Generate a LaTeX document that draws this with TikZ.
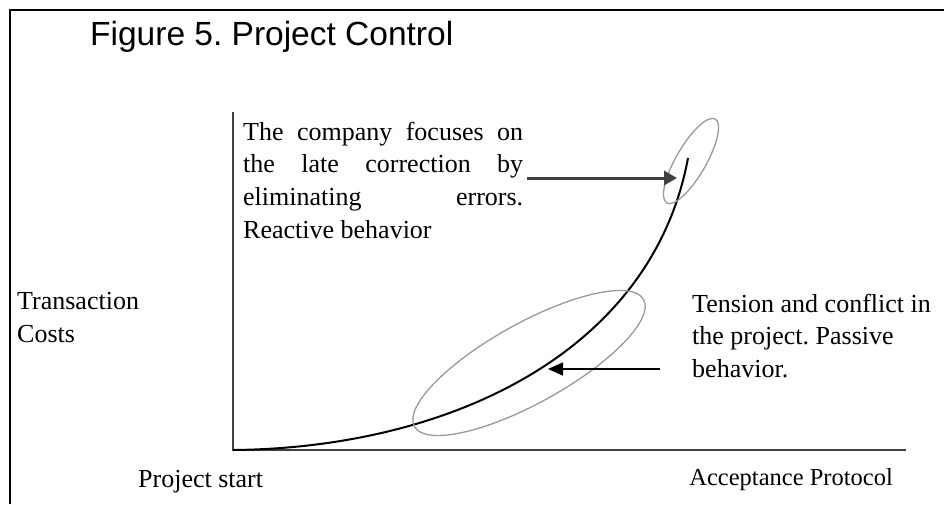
\documentclass[tikz,border=0pt]{standalone}
\usepackage{fontspec}
\setmainfont{Liberation Serif}
\newfontfamily\arialfont{Liberation Sans}
\usetikzlibrary{arrows.meta,shapes.geometric}
\frenchspacing
\tikzset{
  frameline/.style={line width=2pt, black},
  axisline/.style={line width=2.3pt, black!75},
  curveline/.style={line width=2pt, black},
  ringline/.style={line width=1.3pt, black!40},
  greyarrow/.style={line width=3pt, black!75, -{Triangle[length=13pt,width=14pt]}},
  blackarrow/.style={line width=1.3pt, black, -{Triangle[length=15pt,width=13pt]}},
  lbl/.style={inner sep=0pt, font=\fontsize{26}{32.5}\selectfont, align=left}
}
\begin{document}
\begin{tikzpicture}[x=1pt,y=-1pt]
\useasboundingbox (0,0) rectangle (944,504);
\fill[white] (0,0) rectangle (944,504);
% frame
\draw[frameline] (10,504) -- (10,10) -- (944,10);
% title
\node[anchor=base west, inner sep=0pt, font=\arialfont\fontsize{33.5}{36}\selectfont] (title) at (90,45) {Figure 5. Project Control};
% axes
\coordinate (O) at (233,450);
\coordinate (ytop) at (233,112);
\coordinate (xend) at (906,450);
\draw[axisline] (ytop) -- (O) -- (xend);
% curve
\coordinate (cend) at (688,158);
\draw[curveline] (O) .. controls (450,448) and (652,352) .. (cend);
% ellipses
\node[draw, ringline, ellipse, minimum width=262pt, minimum height=80pt, rotate=29, inner sep=0pt] (bigring) at (529,363) {};
\node[draw, ringline, ellipse, minimum width=97pt, minimum height=30pt, rotate=60, inner sep=0pt] (smallring) at (691,161) {};
% text block 1
\node[anchor=base west, inner sep=0pt, text width=280pt, align=justify, font=\fontsize{26}{32.7}\selectfont] (txt1) at (243,140)
{The company focuses on\linebreak the late correction by\linebreak eliminating errors.\linebreak Reactive behavior};
\coordinate (a1s) at (527,178);
\coordinate (a1e) at (677,178);
\draw[greyarrow] (a1s) -- (a1e);
% text block 2 (base anchor = last line)
\node[lbl, anchor=base west] (txt2) at (692,377) {Tension and conflict in\\the project. Passive\\behavior.};
\coordinate (a2s) at (660,369);
\coordinate (a2e) at (548,369);
\draw[blackarrow] (a2s) -- (a2e);
% axis labels
\node[lbl, anchor=base west] (ylab) at (17,342) {Transaction\\Costs};
\node[lbl, anchor=base west] (xstart) at (138,487) {Project start};
\node[lbl, anchor=base east, font=\fontsize{24.5}{30}\selectfont] (xacc) at (893,485) {Acceptance Protocol};
\end{tikzpicture}
\end{document}
